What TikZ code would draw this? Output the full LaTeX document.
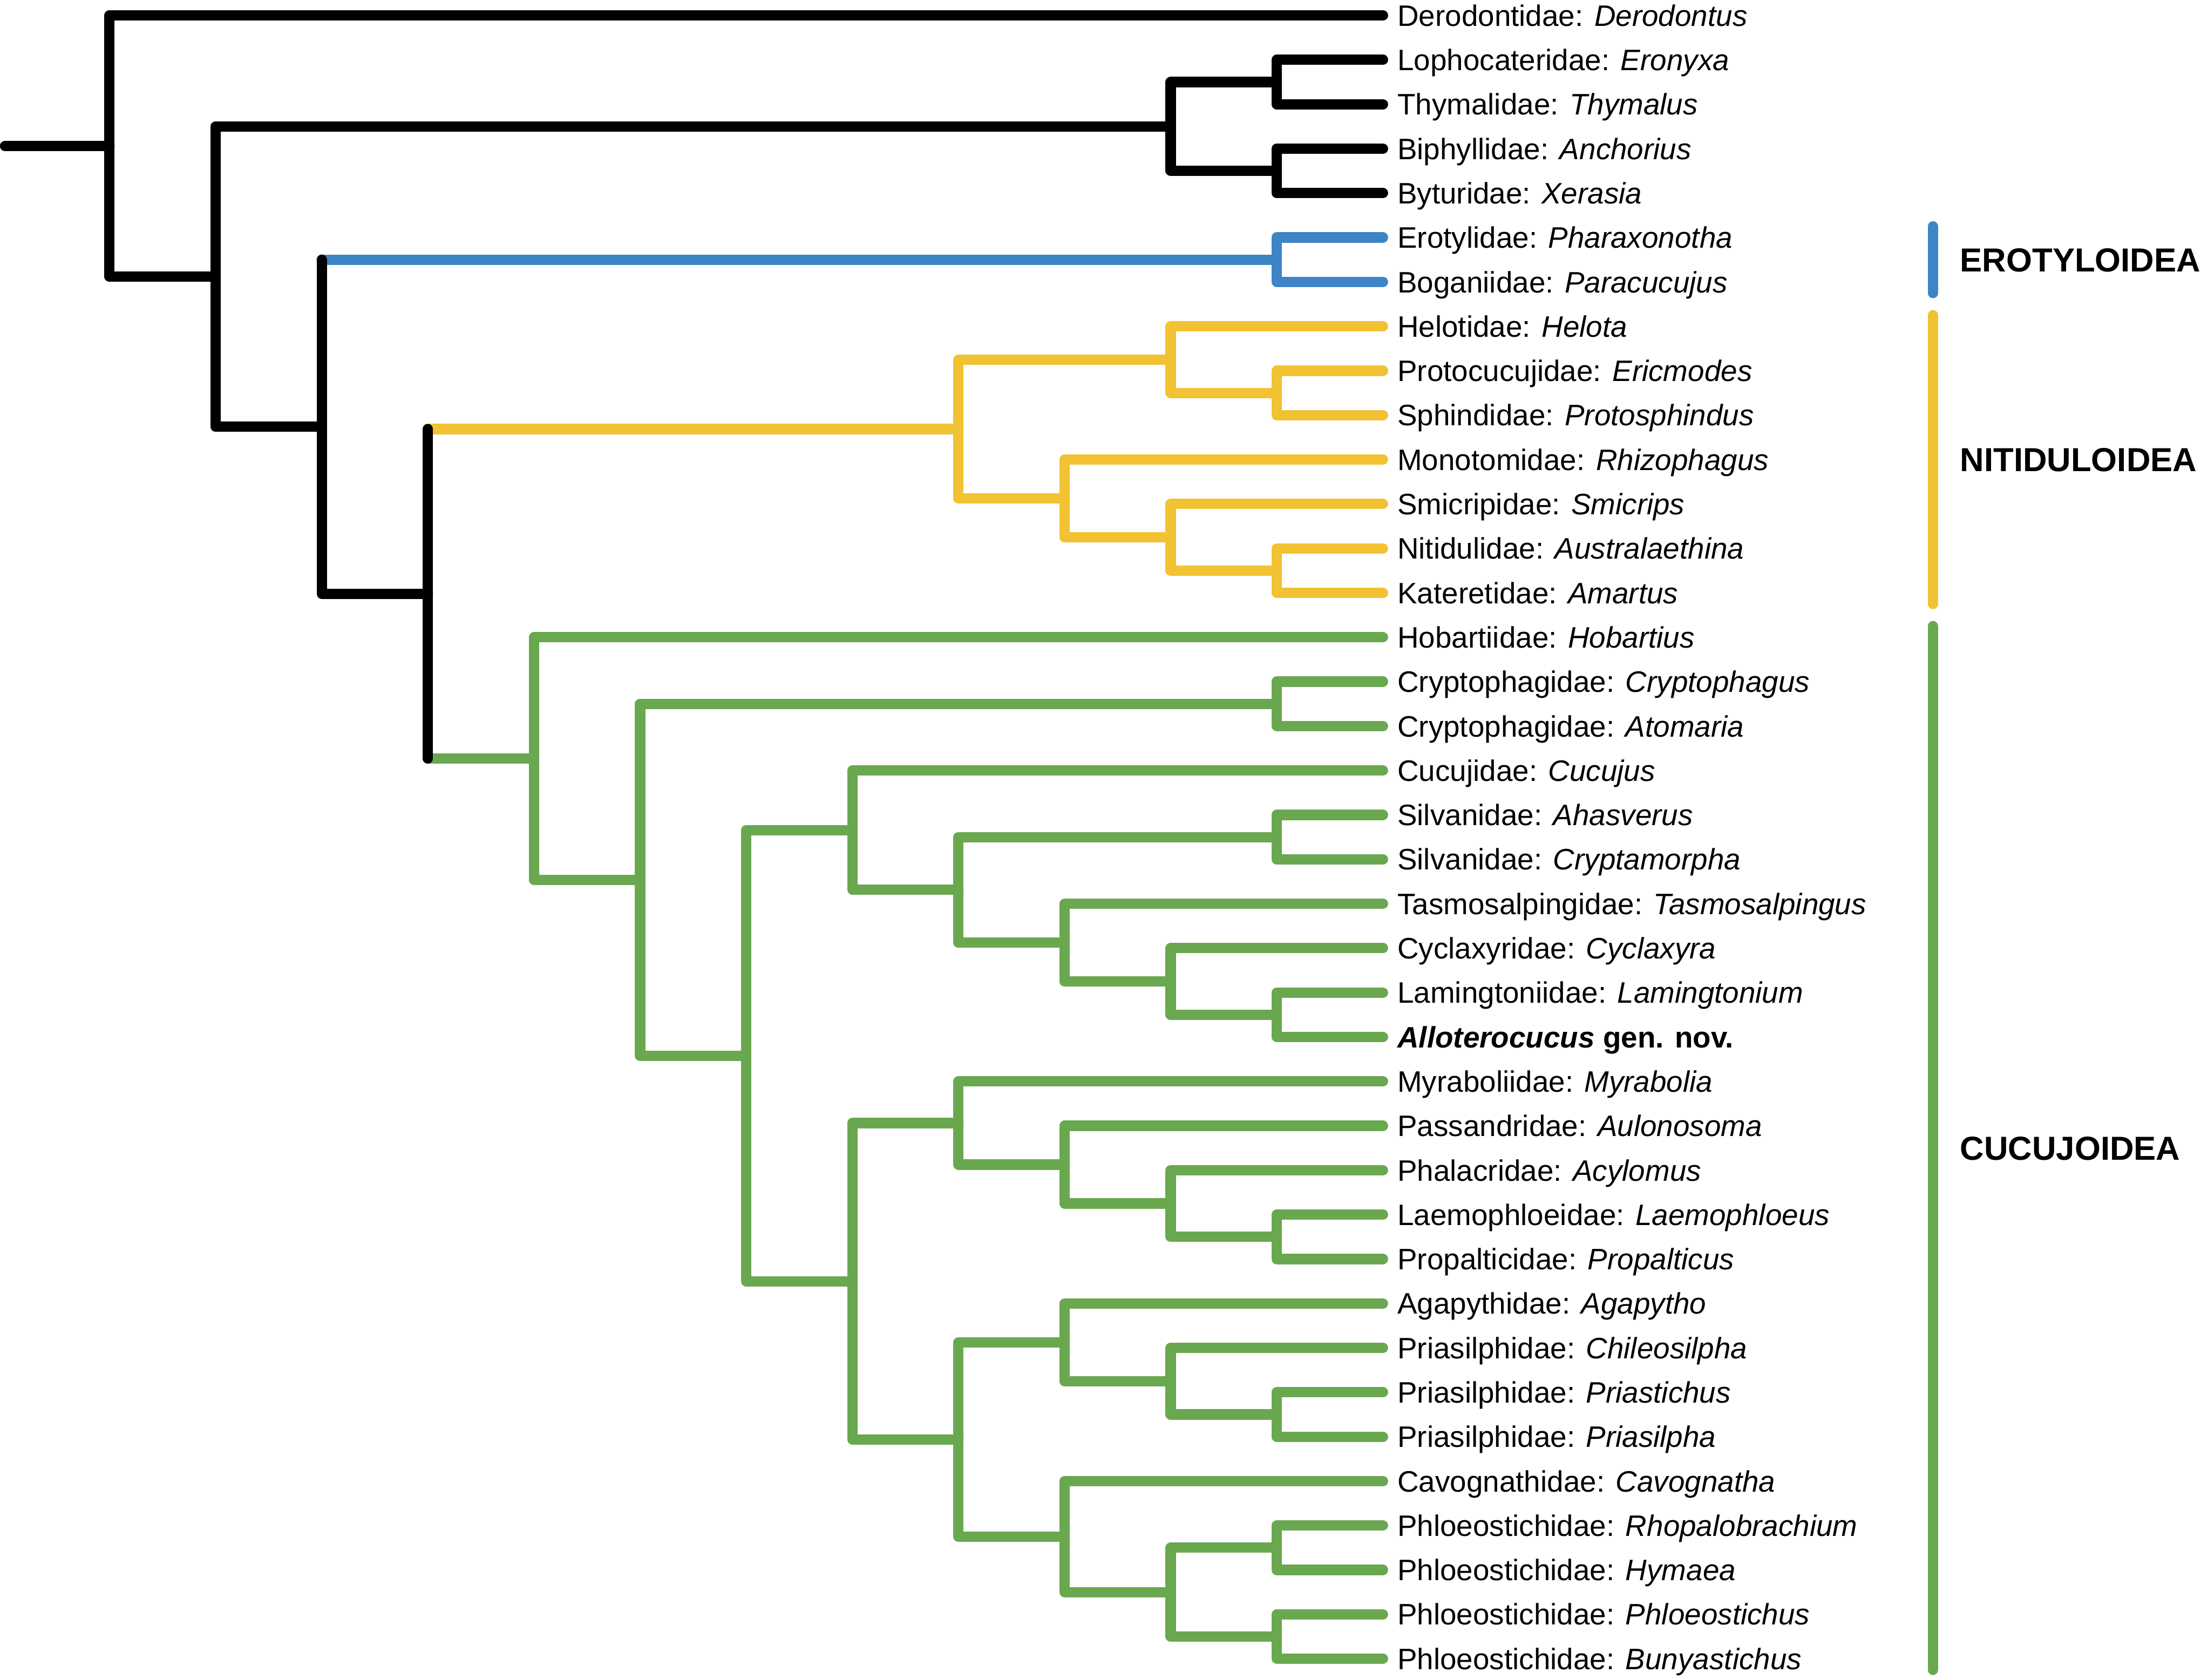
\documentclass[tikz,border=0pt]{standalone}
\usepackage{fontspec}
\setmainfont{Liberation Sans}
\usepackage{tikz}
\usetikzlibrary{positioning}
\definecolor{eroblue}{HTML}{3D85C6}
\definecolor{nityellow}{HTML}{F1C232}
\definecolor{cucgreen}{HTML}{6AA84F}
\tikzset{branch/.style={line width=4.2pt, line cap=round, line join=round},
elbow/.style={to path={|- (\tikztotarget)}},
taxon/.style={anchor=west, inner xsep=0.2cm, inner ysep=0pt, text height=8.6pt, text depth=0pt,
  font=\fontsize{12}{14}\selectfont},
clade/.style={anchor=west, inner sep=0pt, text height=9.7pt, text depth=0pt,
  font=\fontsize{13.5}{16}\selectfont\bfseries}
}

\begin{document}
\begin{tikzpicture}[x=0.02cm, y=-0.633cm]
        \useasboundingbox (0,0.6524) rectangle (1568,38.473);

        \foreach \lab [count=\i] in {Derodontidae: \textit{Derodontus}, Lophocateridae: \textit{Eronyxa},
            Thymalidae: \textit{Thymalus}, Biphyllidae: \textit{Anchorius}, Byturidae: \textit{Xerasia},
            Erotylidae: \textit{Pharaxonotha}, Boganiidae: \textit{Paracucujus}, Helotidae: \textit{Helota},
            Protocucujidae: \textit{Ericmodes}, Sphindidae: \textit{Protosphindus},
            Monotomidae: \textit{Rhizophagus}, Smicripidae: \textit{Smicrips},
            Nitidulidae: \textit{Australaethina}, Kateretidae: \textit{Amartus},
            Hobartiidae: \textit{Hobartius}, Cryptophagidae: \textit{Cryptophagus},
            Cryptophagidae: \textit{Atomaria}, Cucujidae: \textit{Cucujus}, Silvanidae: \textit{Ahasverus},
            Silvanidae: \textit{Cryptamorpha}, Tasmosalpingidae: \textit{Tasmosalpingus},
            Cyclaxyridae: \textit{Cyclaxyra}, Lamingtoniidae: \textit{Lamingtonium},
            \textbf{\textit{Alloterocucus} gen. nov.}, Myraboliidae: \textit{Myrabolia},
            Passandridae: \textit{Aulonosoma}, Phalacridae: \textit{Acylomus},
            Laemophloeidae: \textit{Laemophloeus}, Propalticidae: \textit{Propalticus},
            Agapythidae: \textit{Agapytho}, Priasilphidae: \textit{Chileosilpha},
            Priasilphidae: \textit{Priastichus}, Priasilphidae: \textit{Priasilpha},
            Cavognathidae: \textit{Cavognatha}, Phloeostichidae: \textit{Rhopalobrachium},
            Phloeostichidae: \textit{Hymaea}, Phloeostichidae: \textit{Phloeostichus},
            Phloeostichidae: \textit{Bunyastichus}}
          \node[taxon] (t_\i) at (985.2,\i) {\lab};

        \coordinate (stub)  at (3.6,3.9402);
        \coordinate (root)  at (78,3.9402);
        \coordinate (n_A)   at (153.6,6.8804);
        \coordinate (n_cl)  at (834,3.5);
        \coordinate (n_lt)  at (909.6,2.5);
        \coordinate (n_bx)  at (909.6,4.5);
        \coordinate (n_C)   at (229.2,10.2607);
        \coordinate (n_ero) at (909.6,6.5);
        \coordinate (n_D)   at (304.8,14.0215);
        \coordinate (n_nit) at (682.8,10.3125);
        \coordinate (n_he)  at (834,8.75);
        \coordinate (n_sp)  at (909.6,9.5);
        \coordinate (n_mo)  at (758.4,11.875);
        \coordinate (n_sm)  at (834,12.75);
        \coordinate (n_nk)  at (909.6,13.5);
        \coordinate (n_cuc) at (380.4,17.7305);
        \coordinate (n_ct)  at (456,20.4609);
        \coordinate (n_cr)  at (909.6,16.5);
        \coordinate (n_mid) at (531.6,24.4219);
        \coordinate (n_cu)  at (607.2,19.3438);
        \coordinate (n_sil) at (682.8,20.6875);
        \coordinate (n_si)  at (909.6,19.5);
        \coordinate (n_ta)  at (758.4,21.875);
        \coordinate (n_cy)  at (834,22.75);
        \coordinate (n_la)  at (909.6,23.5);
        \coordinate (n_low) at (607.2,29.5);
        \coordinate (n_my)  at (682.8,25.9375);
        \coordinate (n_pa)  at (758.4,26.875);
        \coordinate (n_ph)  at (834,27.75);
        \coordinate (n_lp)  at (909.6,28.5);
        \coordinate (n_pri) at (682.8,33.0625);
        \coordinate (n_ag)  at (758.4,30.875);
        \coordinate (n_ch)  at (834,31.75);
        \coordinate (n_pr)  at (909.6,32.5);
        \coordinate (n_ca)  at (758.4,35.25);
        \coordinate (n_hy)  at (834,36.5);
        \coordinate (n_rh)  at (909.6,35.5);
        \coordinate (n_bu)  at (909.6,37.5);

        \path[branch,eroblue] (n_C |- n_ero) edge (n_ero)
                  (n_ero) edge[elbow] (t_6.west) edge[elbow] (t_7.west);

        \path[branch,nityellow] (n_D |- n_nit) edge (n_nit)
                  (n_nit) edge[elbow] (n_he)      edge[elbow] (n_mo)
                  (n_he)  edge[elbow] (t_8.west)  edge[elbow] (n_sp)
                  (n_sp)  edge[elbow] (t_9.west)  edge[elbow] (t_10.west)
                  (n_mo)  edge[elbow] (t_11.west) edge[elbow] (n_sm)
                  (n_sm)  edge[elbow] (t_12.west) edge[elbow] (n_nk)
                  (n_nk)  edge[elbow] (t_13.west) edge[elbow] (t_14.west);

        \path[branch,cucgreen] (n_D |- n_cuc) edge (n_cuc)
                  (n_cuc) edge[elbow] (t_15.west) edge[elbow] (n_ct)
                  (n_ct)  edge[elbow] (n_cr)      edge[elbow] (n_mid)
                  (n_cr)  edge[elbow] (t_16.west) edge[elbow] (t_17.west)
                  (n_mid) edge[elbow] (n_cu)      edge[elbow] (n_low)
                  (n_cu)  edge[elbow] (t_18.west) edge[elbow] (n_sil)
                  (n_sil) edge[elbow] (n_si)      edge[elbow] (n_ta)
                  (n_si)  edge[elbow] (t_19.west) edge[elbow] (t_20.west)
                  (n_ta)  edge[elbow] (t_21.west) edge[elbow] (n_cy)
                  (n_cy)  edge[elbow] (t_22.west) edge[elbow] (n_la)
                  (n_la)  edge[elbow] (t_23.west) edge[elbow] (t_24.west)
                  (n_low) edge[elbow] (n_my)      edge[elbow] (n_pri)
                  (n_my)  edge[elbow] (t_25.west) edge[elbow] (n_pa)
                  (n_pa)  edge[elbow] (t_26.west) edge[elbow] (n_ph)
                  (n_ph)  edge[elbow] (t_27.west) edge[elbow] (n_lp)
                  (n_lp)  edge[elbow] (t_28.west) edge[elbow] (t_29.west)
                  (n_pri) edge[elbow] (n_ag)      edge[elbow] (n_ca)
                  (n_ag)  edge[elbow] (t_30.west) edge[elbow] (n_ch)
                  (n_ch)  edge[elbow] (t_31.west) edge[elbow] (n_pr)
                  (n_pr)  edge[elbow] (t_32.west) edge[elbow] (t_33.west)
                  (n_ca)  edge[elbow] (t_34.west) edge[elbow] (n_hy)
                  (n_hy)  edge[elbow] (n_rh)      edge[elbow] (n_bu)
                  (n_rh)  edge[elbow] (t_35.west) edge[elbow] (t_36.west)
                  (n_bu)  edge[elbow] (t_37.west) edge[elbow] (t_38.west);

        \path[branch] (stub) edge (root)
                  (root) edge[elbow] (t_1.west) edge[elbow] (n_A)
                  (n_A)  edge[elbow] (n_cl)     edge[elbow] (n_C)
                  (n_cl) edge[elbow] (n_lt)     edge[elbow] (n_bx)
                  (n_lt) edge[elbow] (t_2.west) edge[elbow] (t_3.west)
                  (n_bx) edge[elbow] (t_4.west) edge[elbow] (t_5.west)
                  (n_C)  edge (n_C |- n_ero)    edge[elbow] (n_D)
                  (n_D)  edge (n_D |- n_nit)    edge (n_D |- n_cuc);

        \coordinate (b_ero_1) at (1377,5.75);
        \coordinate (b_ero_2) at (1377,7.25);
        \coordinate (b_nit_1) at (1377,7.75);
        \coordinate (b_nit_2) at (1377,14.25);
        \coordinate (b_cuc_1) at (1377,14.75);
        \coordinate (b_cuc_2) at (1377,38.25);
        \draw[branch,eroblue]   (b_ero_1) -- (b_ero_2);
        \draw[branch,nityellow] (b_nit_1) -- (b_nit_2);
        \draw[branch,cucgreen]  (b_cuc_1) -- (b_cuc_2);

        \node[clade] (c_ero) at (1396,6.5)  {EROTYLOIDEA};
        \node[clade] (c_nit) at (1396,11)   {NITIDULOIDEA};
        \node[clade] (c_cuc) at (1396,26.5) {CUCUJOIDEA};
\end{tikzpicture}
\end{document}
